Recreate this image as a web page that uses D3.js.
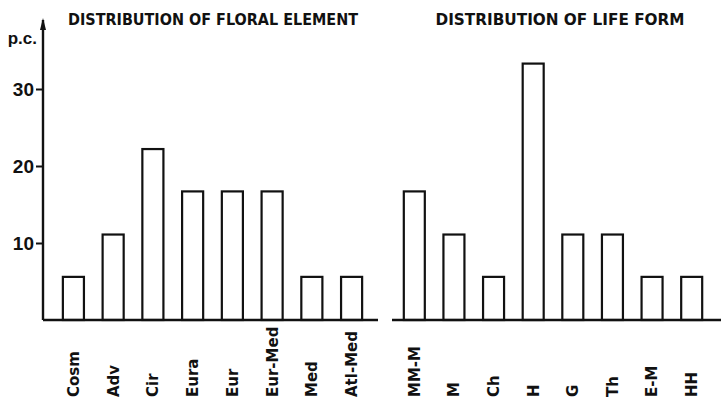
<!DOCTYPE html>
<html>
<head>
<meta charset="utf-8">
<script src="https://cdn.jsdelivr.net/npm/d3@7"></script>
<style>
  html, body { margin: 0; padding: 0; background: #fff; }
  svg { display: block; }
  text { fill: #111; }
</style>
</head>
<body>
<svg id="chart" width="721" height="403"></svg>
<script>
// ---- data ----
const floralCategories = ["Cosm", "Adv", "Cir", "Eura", "Eur", "Eur-Med", "Med", "Atl-Med"];
const floralValues     = [5.6, 11.1, 22.2, 16.7, 16.7, 16.7, 5.6, 5.6];
const lifeCategories   = ["MM-M", "M", "Ch", "H", "G", "Th", "E-M", "HH"];
const lifeValues       = [16.7, 11.1, 5.6, 33.3, 11.1, 11.1, 5.6, 5.6];
const yTicks           = [10, 20, 30];
const titles           = ["DISTRIBUTION OF FLORAL ELEMENT", "DISTRIBUTION OF LIFE FORM"];
const yUnit            = "p.c.";

const svg = d3.select("#chart");
const ink = "#111";

const y = d3.scaleLinear().domain([0, 10]).range([320, 243]);

function panel(cats, vals, range, baseX, title, titleX, titleLen) {
  const x = d3.scaleBand().domain(cats).range(range).paddingInner(0.47).paddingOuter(0.5);
  const g = svg.append("g");
  g.selectAll("rect").data(cats).enter().append("rect")
    .attr("x", d => x(d))
    .attr("width", x.bandwidth())
    .attr("y", (d, i) => y(vals[i]))
    .attr("height", (d, i) => y(0) - y(vals[i]))
    .attr("fill", "#fff")
    .attr("stroke", ink)
    .attr("stroke-width", 2.2);
  // baseline
  g.append("line")
    .attr("x1", baseX[0]).attr("x2", baseX[1])
    .attr("y1", y(0)).attr("y2", y(0))
    .attr("stroke", ink).attr("stroke-width", 2.4);
  // category labels
  g.selectAll("text.cat").data(cats).enter().append("text")
    .attr("class", "cat")
    .attr("transform", d => `translate(${x(d) + x.bandwidth() / 2},397) rotate(-90)`)
    .attr("dy", "0.36em")
    .attr("text-anchor", "start")
    .style("font-family", "DejaVu Sans, sans-serif")
    .style("font-weight", "bold")
    .style("font-size", "15px")
    .text(d => d);
  // title
  g.append("text")
    .attr("x", titleX).attr("y", 25)
    .attr("text-anchor", "middle")
    .attr("textLength", titleLen)
    .attr("lengthAdjust", "spacingAndGlyphs")
    .style("font-family", "DejaVu Sans, sans-serif")
    .style("font-weight", "bold")
    .style("font-size", "16px")
    .text(title);
}

panel(floralCategories, floralValues, [43, 382], [43, 378], titles[0], 213, 290);
panel(lifeCategories, lifeValues, [384, 722], [392, 721], titles[1], 560, 249);

// y axis
const yAxis = d3.axisLeft(y).tickValues(yTicks).tickSize(7).tickPadding(2).tickFormat(d3.format("d"));
const ya = svg.append("g").attr("transform", "translate(43,0)").call(yAxis);
ya.select(".domain").remove();
ya.selectAll(".tick line").attr("stroke", ink).attr("stroke-width", 2);
ya.selectAll(".tick text")
  .style("font-family", "Liberation Sans, Arial, sans-serif")
  .style("font-weight", "bold")
  .style("font-size", "19px")
  .attr("fill", ink);
svg.append("line")
  .attr("x1", 43).attr("x2", 43).attr("y1", 20).attr("y2", y(0))
  .attr("stroke", ink).attr("stroke-width", 2.4);
svg.append("path")
  .attr("d", "M40,30 L43,18 L46,30 Z")
  .attr("fill", ink);
svg.append("text")
  .attr("x", 37).attr("y", 44)
  .attr("text-anchor", "end")
  .style("font-family", "Liberation Sans, Arial, sans-serif")
  .style("font-weight", "bold")
  .style("font-size", "17px")
  .text(yUnit);
</script>
</body>
</html>
